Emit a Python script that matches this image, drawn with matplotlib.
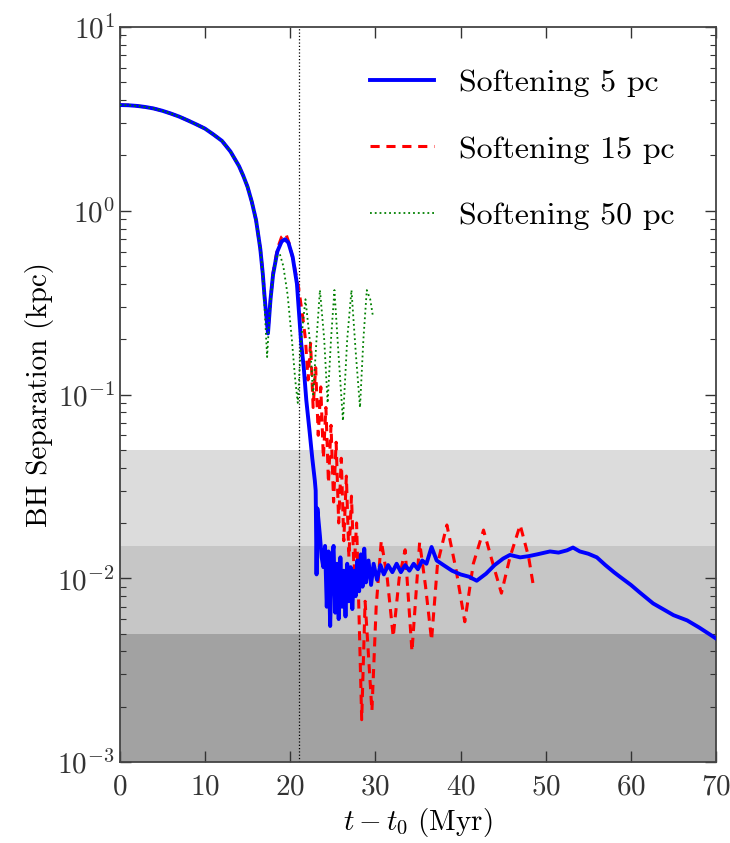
import numpy as np
import matplotlib
matplotlib.use("Agg")
import matplotlib.pyplot as plt

plt.rcParams['font.family'] = 'serif'
plt.rcParams['font.serif'] = ['cmr10']
plt.rcParams['mathtext.fontset'] = 'cm'
plt.rcParams['axes.formatter.use_mathtext'] = True

## common orbit before the first pericentre (all three runs agree)
t_early = [0, 1, 2, 3, 4, 5, 6, 7, 8, 9, 10, 11, 12, 13, 14, 14.5, 15, 15.5, 16, 16.5, 16.8]
sep_early = [3.76, 3.75, 3.72, 3.67, 3.6, 3.5, 3.38, 3.25, 3.1, 2.95, 2.8, 2.6, 2.4, 2.1, 1.75, 1.55,
             1.35, 1.12, 0.89, 0.62, 0.45]

## softening 5 pc
t_5 = [17.0, 17.4, 17.7, 18.0, 18.5, 19.0, 19.4, 19.8, 20.3, 20.8, 21.3, 21.6, 21.9, 22.3, 22.6, 22.9,
       23.0, 23.1, 23.2, 23.5, 23.7, 23.9, 24.1, 24.3, 24.5, 24.7, 24.9, 25.1, 25.3, 25.5, 25.7, 25.9,
       26.1, 26.3, 26.5, 26.7, 26.9, 27.1, 27.3, 27.5, 27.7, 27.9, 28.1, 28.3, 28.5, 28.7, 28.9, 29.2,
       29.5, 29.8, 30.2, 30.6, 31.0, 31.5, 32.0, 32.5, 33.0, 33.5, 34.0, 34.5, 35.0, 35.5, 36.0, 36.6,
       37.2, 38.0, 39.0, 40.0, 41.0, 41.9, 43.0, 44.0, 45.0, 45.8, 47.0, 48.0, 49.0, 50.5, 51.5, 52.5,
       53.2, 54.0, 55.0, 56.0, 57.0, 58.0, 58.7, 60.0, 61.0, 62.6, 64.0, 65.0, 66.6, 68.0, 69.7, 70.0]
sep_5 = [0.34, 0.215, 0.33, 0.45, 0.6, 0.68, 0.70, 0.67, 0.56, 0.40, 0.19, 0.14, 0.093, 0.062, 0.045,
         0.034, 0.03, 0.0105, 0.024, 0.017, 0.013, 0.0115, 0.015, 0.007, 0.014, 0.0055, 0.013, 0.015,
         0.0065, 0.012, 0.006, 0.013, 0.007, 0.011, 0.0062, 0.012, 0.0075, 0.0115, 0.0068, 0.011, 0.008,
         0.0125, 0.0085, 0.0135, 0.009, 0.0145, 0.0095, 0.0125, 0.0092, 0.012, 0.0098, 0.0118, 0.0105,
         0.0118, 0.0108, 0.012, 0.0108, 0.0118, 0.011, 0.012, 0.0112, 0.0125, 0.012, 0.0148, 0.0125,
         0.0118, 0.011, 0.0105, 0.0102, 0.0097, 0.0106, 0.0118, 0.0128, 0.0134, 0.013, 0.0132, 0.0135,
         0.014, 0.0138, 0.0142, 0.0147, 0.014, 0.0136, 0.013, 0.0118, 0.0108, 0.0102, 0.0092, 0.0084,
         0.0073, 0.0067, 0.0063, 0.0059, 0.0054, 0.0048, 0.0047]

## softening 15 pc
t_15 = [17.0, 17.4, 17.7, 18.0, 18.5, 19.0, 19.5, 20.0, 20.5, 21.0, 21.5, 21.8, 22.1, 22.4, 22.7, 23.0,
        23.3, 23.6, 23.9, 24.2, 24.5, 24.8, 25.1, 25.4, 25.7, 26.0, 26.3, 26.6, 26.9, 27.2, 27.5, 27.8,
        28.1, 28.4, 28.8, 29.1, 29.6, 30.1, 30.7, 31.4, 32.1, 32.8, 33.5, 34.3, 35.2, 35.9, 36.6, 37.3,
        38.4, 39.5, 40.5, 41.5, 42.7, 43.8, 44.8, 45.8, 47.0, 48.0, 48.5]
sep_15 = [0.34, 0.22, 0.33, 0.46, 0.62, 0.72, 0.75, 0.64, 0.5, 0.38, 0.26, 0.2, 0.12, 0.19, 0.085, 0.14,
          0.06, 0.11, 0.045, 0.085, 0.033, 0.068, 0.026, 0.055, 0.02, 0.045, 0.016, 0.036, 0.013, 0.028,
          0.011, 0.02, 0.006, 0.0017, 0.0075, 0.0045, 0.0019, 0.007, 0.016, 0.01, 0.0048, 0.01, 0.0143,
          0.004, 0.0157, 0.009, 0.0046, 0.012, 0.0195, 0.011, 0.0058, 0.012, 0.0183, 0.012, 0.0083, 0.013,
          0.0195, 0.013, 0.0094]

## softening 50 pc
t_50 = [17.0, 17.3, 17.6, 18.0, 18.4, 18.8, 19.2, 19.7, 20.2, 20.6, 20.9, 21.3, 21.8, 22.3, 22.7, 23.1,
        23.5, 24.0, 24.4, 24.8, 25.2, 25.7, 26.2, 26.7, 27.2, 27.7, 28.2, 28.6, 29.0, 29.4, 29.7]
sep_50 = [0.3, 0.16, 0.28, 0.45, 0.56, 0.58, 0.5, 0.35, 0.2, 0.12, 0.09, 0.2, 0.33, 0.2, 0.1, 0.2,
          0.37, 0.2, 0.09, 0.2, 0.37, 0.16, 0.072, 0.2, 0.37, 0.17, 0.085, 0.2, 0.37, 0.33, 0.27]

## resolution limits (kpc) and time of the vertical marker
bands = [1e-3, 5e-3, 1.5e-2, 5e-2]
band_colors = ['#a2a2a2', '#c6c6c6', '#dcdcdc']
t_mark = 21.0

fig = plt.figure(figsize=(7.3, 8.43), dpi=100)
ax = fig.add_axes([0.164, 0.096, 0.817, 0.872])

for lo, hi, c in zip(bands[:-1], bands[1:], band_colors):
    ax.axhspan(lo, hi, color=c, lw=0, zorder=0)

ax.axvline(t_mark, color='k', ls=':', lw=0.9, zorder=1)

ax.plot(t_early + t_15, sep_early + sep_15, color='r', lw=2.2, ls='--', dashes=(3, 2.2),
        label='Softening 15 pc', zorder=3)
ax.plot(t_early + t_5, sep_early + sep_5, color='b', lw=2.8, label='Softening 5 pc', zorder=4)
ax.plot(t_early + t_50, sep_early + sep_50, color='g', lw=1.3, ls=':', label='Softening 50 pc', zorder=5)

ax.set_yscale('log')
ax.set_xlim(0, 70)
ax.set_ylim(1e-3, 1e1)
ax.set_xticks(np.arange(0, 71, 10))

ax.tick_params(which='both', direction='in', top=True, right=True, labelsize=21, colors='#333333')
ax.tick_params(which='major', length=8, width=1)
ax.tick_params(which='minor', length=4, width=0.8)
ax.tick_params(axis='x', pad=9)
for s in ax.spines.values():
    s.set_linewidth(1.3)
    s.set_color('#444444')

ax.set_xlabel(r'$t - t_0\ (\mathrm{Myr})$', fontsize=21, labelpad=4)
ax.set_ylabel('BH Separation (kpc)', fontsize=21, labelpad=2)

h, l = ax.get_legend_handles_labels()
order = [1, 0, 2]
leg = ax.legend([h[i] for i in order], [l[i] for i in order], loc='upper right', frameon=False,
                fontsize=23, handlelength=2.0, handletextpad=0.8, labelspacing=1.2, borderaxespad=0.9)

fig.savefig('out.png', dpi=100)
